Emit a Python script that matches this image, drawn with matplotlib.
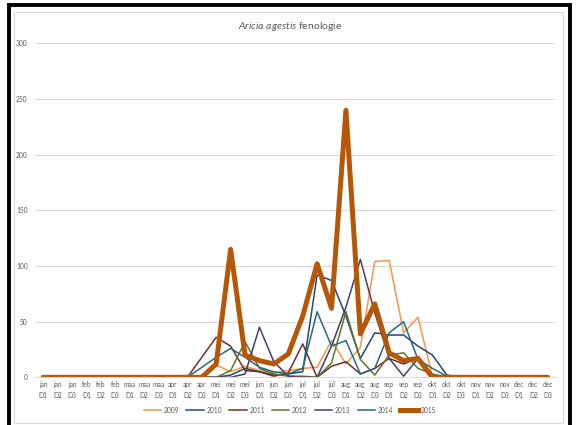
import matplotlib.pyplot as plt
from matplotlib.lines import Line2D
from matplotlib.patches import Rectangle

plt.rcParams['font.family'] = ['Lato', 'DejaVu Sans']
plt.rcParams['mathtext.fontset'] = 'custom'
plt.rcParams['mathtext.it'] = 'Lato:italic'
plt.rcParams['mathtext.rm'] = 'Lato'

months = ['jan', 'feb', 'maa', 'apr', 'mei', 'jun', 'jul', 'aug', 'sep', 'okt', 'nov', 'dec']
labels = [m + '\nD' + str(d) for m in months for d in (1, 2, 3)]

z10 = [0] * 10
tail = [0] * 6
y2009 = z10 + [0, 0, 11, 5, 10, 6, 4, 6, 8, 9, 33, 12, 27, 104, 105, 40, 54, 1, 0, 0] + tail
y2010 = z10 + [0, 0, 0, 2, 8, 5, 2, 3, 5, 92, 87, 55, 17, 40, 38, 38, 28, 20, 2, 0] + tail
y2011 = z10 + [0, 18, 36, 28, 6, 5, 1, 4, 30, 0, 10, 14, 3, 8, 17, 12, 17, 2, 0, 0] + tail
y2012 = z10 + [0, 0, 0, 6, 32, 8, 3, 1, 1, 0, 13, 59, 16, 2, 20, 22, 8, 3, 0, 0] + tail
y2013 = z10 + [0, 0, 0, 0, 3, 45, 14, 1, 0, 0, 28, 63, 106, 58, 17, 1, 17, 1, 0, 0] + tail
y2014 = z10 + [0, 9, 18, 26, 18, 9, 5, 3, 8, 59, 28, 33, 3, 8, 40, 50, 16, 8, 1, 0] + tail
y2015 = z10 + [0, 0, 12, 115, 20, 15, 12, 21, 55, 102, 62, 240, 39, 66, 22, 15, 17, 0, 0, 0] + tail

series = [('2009', y2009, '#F79646', 1.1),
          ('2010', y2010, '#1F497D', 1.1),
          ('2011', y2011, '#772C2A', 1.1),
          ('2012', y2012, '#5F7530', 1.1),
          ('2013', y2013, '#4D3B62', 1.1),
          ('2014', y2014, '#276A7C', 1.1),
          ('2015', y2015, '#B65708', 3.6)]

fig = plt.figure(figsize=(5.76, 4.25), dpi=100)
ax = fig.add_axes([0.0625, 0.1122, 0.901, 0.7855])

x = list(range(len(labels)))
for name, vals, col, lw in series:
    ax.plot(x, vals, color=col, lw=lw, label=name,
            solid_joinstyle='round', solid_capstyle='round')

ax.set_xlim(-0.5, len(labels) - 0.5)
ax.set_ylim(0, 300)
ax.set_yticks(range(0, 301, 50))
ax.set_xticks(x)
ax.set_xticklabels(labels, fontsize=4.8, color='#595959', linespacing=1.6)
ax.tick_params(axis='y', labelsize=4.8, labelcolor='#595959', length=0, pad=6)
ax.tick_params(axis='x', length=0, pad=3)
ax.grid(axis='y', color='#D9D9D9', lw=0.8)
ax.set_axisbelow(True)
for s in ['left', 'top', 'right']:
    ax.spines[s].set_visible(False)
ax.spines['bottom'].set_color('#D9D9D9')

fig.text(0.503, 0.938, r'$\it{Aricia\ agestis}$ fenologie', ha='center', va='center',
         fontsize=7.5, color='#595959')

handles = [Line2D([], [], color=c, lw=lw) for _, _, c, lw in series]
fig.legend(handles, [s[0] for s in series], loc='center', ncol=7,
           bbox_to_anchor=(0.503, 0.035), frameon=False, fontsize=4.8,
           labelcolor='#595959', handlelength=2.6, columnspacing=1.1, handletextpad=0.4)

# chart border and outer black frame
fig.patches.append(Rectangle((14 / 576, 0.005), 549 / 576, 1 - 0.005 - 12 / 425,
                             transform=fig.transFigure, fill=False, ec='#D9D9D9', lw=0.8))
fig.patches.append(Rectangle((9 / 576, -0.02), 561 / 576, 1 + 0.02 - 5 / 425,
                             transform=fig.transFigure, fill=False, ec='black', lw=2.8))

fig.savefig('out.png', dpi=100)
